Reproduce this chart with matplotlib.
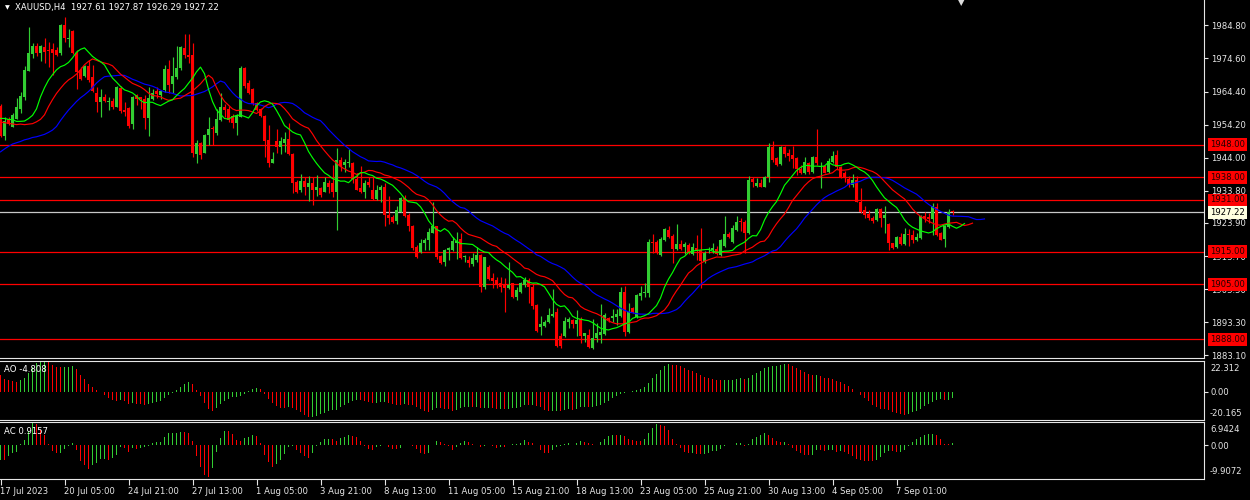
import numpy as np
import pandas as pd
import matplotlib
matplotlib.use("Agg")
import matplotlib.pyplot as plt
import matplotlib.transforms as mtransforms

# ---------------- data ----------------
symbol_title = "XAUUSD,H4  1927.61 1927.87 1926.29 1927.22"
ao_title = "AO -4.808"
ac_title = "AC 0.9157"

open_ = [
    1959.9, 1950.7, 1955.8, 1953.6, 1955.8, 1958.9, 1962.8, 1970.8, 1976.0, 1978.4,
    1976.4, 1978.2, 1977.2, 1977.4, 1977.2, 1976.2, 1984.9, 1980.5, 1983.2, 1976.2,
    1971.0, 1969.2, 1972.3, 1969.0, 1964.0, 1961.3, 1962.6, 1961.3, 1961.6, 1959.7,
    1965.4, 1958.7, 1959.2, 1954.4, 1963.3, 1962.6, 1962.0, 1956.3, 1962.0, 1964.6,
    1963.3, 1964.8, 1971.2, 1966.6, 1968.9, 1971.5, 1977.7, 1975.6, 1975.6, 1945.1,
    1948.6, 1945.5, 1951.0, 1953.3, 1951.7, 1955.6, 1959.5, 1958.9, 1956.8, 1954.8,
    1956.6, 1971.5, 1967.0, 1965.1, 1961.0, 1958.9, 1956.9, 1949.5, 1942.5, 1949.0,
    1947.4, 1948.4, 1949.7, 1945.2, 1936.6, 1934.1, 1936.9, 1934.9, 1936.1, 1933.9,
    1934.6, 1933.5, 1936.3, 1936.3, 1933.5, 1943.3, 1941.8, 1942.3, 1942.3, 1937.3,
    1934.6, 1933.5, 1936.6, 1933.9, 1931.2, 1933.9, 1935.1, 1926.4, 1925.8, 1924.6,
    1927.4, 1931.5, 1926.4, 1923.0, 1916.6, 1914.8, 1917.6, 1918.5, 1920.9, 1922.8,
    1913.7, 1912.0, 1915.4, 1915.6, 1917.8, 1918.9, 1913.3, 1912.5, 1911.3, 1912.5,
    1914.0, 1904.3, 1910.4, 1906.8, 1906.3, 1905.3, 1904.8, 1903.8, 1905.3, 1901.0,
    1902.7, 1904.8, 1906.3, 1904.3, 1898.6, 1891.7, 1892.2, 1893.5, 1895.2, 1896.3,
    1888.9, 1888.9, 1893.5, 1894.0, 1892.8, 1894.2, 1889.1, 1889.4, 1885.3, 1888.3,
    1889.4, 1889.7, 1894.5, 1894.5, 1895.0, 1895.2, 1902.7, 1890.4, 1897.6, 1894.8,
    1901.4, 1902.2, 1902.4, 1918.1, 1918.1, 1914.0, 1918.7, 1921.7, 1919.9, 1915.8,
    1917.4, 1916.6, 1917.1, 1914.3, 1916.1, 1915.6, 1912.0, 1915.6, 1915.6, 1915.8,
    1914.0, 1916.8, 1920.5, 1918.1, 1921.7, 1924.6, 1924.3, 1920.9, 1937.4, 1935.3,
    1936.3, 1935.1, 1938.0, 1947.4, 1943.8, 1942.1, 1947.4, 1945.6, 1944.9, 1943.8,
    1940.4, 1939.4, 1942.5, 1939.7, 1944.3, 1941.1, 1941.3, 1939.7, 1942.8, 1944.9,
    1941.1, 1939.2, 1937.4, 1935.6, 1937.1, 1930.5, 1927.9, 1926.7, 1925.3, 1924.8,
    1928.1, 1925.3, 1923.6, 1917.6, 1916.4, 1919.5, 1917.4, 1920.5, 1920.2, 1918.5,
    1919.2, 1925.9, 1925.7, 1925.0, 1928.9, 1920.7, 1918.9, 1922.6, 1927.61,
]
high = [
    1960.5, 1956.6, 1956.6, 1957.7, 1962.3, 1964.4, 1972.3, 1984.2, 1979.2, 1979.2,
    1978.6, 1981.0, 1979.8, 1979.2, 1978.2, 1985.2, 1987.3, 1983.6, 1983.3, 1977.2,
    1972.1, 1972.5, 1974.1, 1972.5, 1965.7, 1965.1, 1963.6, 1962.6, 1962.3, 1966.1,
    1966.1, 1961.2, 1959.5, 1963.0, 1963.6, 1962.8, 1963.3, 1965.9, 1965.3, 1965.9,
    1965.0, 1972.5, 1974.1, 1974.9, 1978.4, 1978.4, 1982.1, 1982.1, 1979.2, 1949.6,
    1948.9, 1951.3, 1956.6, 1953.7, 1958.9, 1964.0, 1960.7, 1959.9, 1957.4, 1957.4,
    1972.2, 1972.0, 1968.0, 1965.6, 1961.3, 1959.2, 1957.2, 1954.1, 1945.9, 1952.8,
    1950.5, 1952.0, 1954.6, 1945.4, 1937.0, 1939.0, 1938.2, 1938.4, 1938.2, 1938.7,
    1935.1, 1938.0, 1937.1, 1941.8, 1946.9, 1944.1, 1943.5, 1946.6, 1942.8, 1939.2,
    1941.5, 1937.1, 1938.0, 1938.2, 1935.6, 1935.6, 1936.1, 1932.2, 1926.3, 1929.1,
    1932.0, 1932.5, 1926.9, 1923.2, 1917.1, 1918.9, 1919.2, 1922.3, 1930.5, 1923.0,
    1914.0, 1915.8, 1916.4, 1919.7, 1921.2, 1920.9, 1914.0, 1913.7, 1914.6, 1916.4,
    1914.2, 1913.5, 1911.0, 1908.4, 1907.3, 1907.3, 1906.8, 1912.0, 1905.5, 1904.3,
    1905.8, 1907.1, 1906.8, 1905.5, 1899.0, 1895.2, 1894.0, 1897.6, 1903.5, 1897.6,
    1890.1, 1895.0, 1895.0, 1894.4, 1897.1, 1895.0, 1890.1, 1891.1, 1894.2, 1893.0,
    1898.9, 1896.0, 1895.0, 1897.3, 1897.3, 1904.1, 1904.5, 1899.1, 1898.1, 1902.0,
    1904.5, 1905.5, 1918.9, 1920.5, 1918.7, 1919.5, 1922.2, 1923.0, 1920.5, 1923.6,
    1918.5, 1918.1, 1917.6, 1917.8, 1920.2, 1922.2, 1915.1, 1916.4, 1917.6, 1916.8,
    1918.9, 1926.1, 1921.0, 1923.3, 1926.0, 1925.3, 1924.8, 1938.4, 1938.2, 1937.7,
    1937.4, 1938.4, 1948.4, 1949.2, 1944.3, 1947.6, 1947.6, 1946.6, 1947.6, 1944.3,
    1941.8, 1944.3, 1942.8, 1944.5, 1952.9, 1942.8, 1941.5, 1943.8, 1946.2, 1946.4,
    1941.5, 1940.0, 1938.4, 1939.0, 1938.4, 1934.6, 1929.1, 1927.9, 1926.1, 1928.4,
    1928.4, 1929.1, 1924.0, 1917.8, 1919.9, 1920.7, 1922.3, 1922.0, 1921.8, 1920.9,
    1926.2, 1927.4, 1927.1, 1930.0, 1930.0, 1921.2, 1923.3, 1928.1, 1927.87,
]
low = [
    1950.3, 1949.5, 1954.0, 1953.6, 1955.8, 1957.7, 1961.8, 1970.8, 1974.6, 1975.3,
    1973.9, 1973.1, 1972.1, 1969.5, 1975.3, 1975.6, 1979.8, 1978.2, 1976.0, 1965.1,
    1968.0, 1969.0, 1967.4, 1964.4, 1958.2, 1956.6, 1961.1, 1958.7, 1958.9, 1959.5,
    1957.7, 1957.0, 1953.3, 1952.9, 1960.2, 1958.9, 1952.9, 1950.8, 1961.7, 1962.3,
    1962.0, 1964.3, 1963.8, 1964.0, 1968.4, 1971.0, 1974.6, 1973.3, 1944.3, 1942.4,
    1943.5, 1945.3, 1947.9, 1947.9, 1951.0, 1955.4, 1956.4, 1955.1, 1953.0, 1951.0,
    1956.4, 1965.5, 1963.7, 1960.3, 1958.5, 1956.4, 1944.3, 1941.0, 1942.3, 1945.4,
    1945.2, 1945.9, 1944.8, 1933.0, 1933.2, 1933.5, 1932.5, 1930.8, 1929.4, 1932.2,
    1932.0, 1933.3, 1933.2, 1932.0, 1921.7, 1940.0, 1939.7, 1941.0, 1936.1, 1933.9,
    1933.0, 1931.5, 1935.1, 1931.0, 1931.0, 1930.2, 1922.8, 1923.6, 1924.0, 1923.6,
    1927.2, 1925.8, 1921.5, 1915.6, 1913.1, 1914.6, 1915.6, 1915.4, 1920.7, 1912.7,
    1911.2, 1910.6, 1912.5, 1915.1, 1912.7, 1912.7, 1912.0, 1910.2, 1910.5, 1912.0,
    1902.7, 1903.5, 1906.3, 1903.8, 1903.8, 1902.7, 1896.3, 1903.5, 1900.7, 1900.2,
    1902.4, 1904.1, 1899.3, 1897.3, 1890.4, 1889.4, 1891.7, 1893.0, 1895.0, 1885.8,
    1885.3, 1888.7, 1891.4, 1891.4, 1888.9, 1886.8, 1887.3, 1885.3, 1885.0, 1887.3,
    1887.0, 1889.4, 1893.5, 1893.5, 1892.5, 1895.0, 1889.1, 1890.1, 1896.1, 1894.6,
    1900.0, 1901.2, 1901.2, 1914.5, 1914.3, 1913.8, 1918.4, 1919.2, 1911.7, 1915.6,
    1915.6, 1914.3, 1914.3, 1914.0, 1912.5, 1903.8, 1911.7, 1914.5, 1914.5, 1914.0,
    1913.7, 1916.6, 1919.2, 1917.8, 1921.5, 1921.5, 1914.5, 1920.5, 1935.1, 1935.1,
    1934.9, 1934.9, 1936.6, 1942.8, 1941.5, 1941.8, 1944.3, 1943.1, 1940.7, 1938.7,
    1939.0, 1939.0, 1939.0, 1939.4, 1941.8, 1934.6, 1939.2, 1939.2, 1942.5, 1940.4,
    1937.7, 1936.6, 1935.1, 1935.1, 1930.2, 1926.9, 1925.3, 1924.8, 1924.0, 1924.6,
    1922.6, 1920.9, 1915.4, 1915.8, 1916.1, 1917.1, 1917.1, 1916.8, 1917.6, 1918.2,
    1918.9, 1924.3, 1923.8, 1920.2, 1920.0, 1918.5, 1916.6, 1922.3, 1926.29,
]
close = [
    1950.7, 1955.4, 1954.4, 1957.2, 1959.5, 1963.0, 1971.0, 1976.4, 1978.4, 1976.2,
    1978.4, 1976.7, 1977.0, 1976.4, 1975.6, 1984.9, 1980.8, 1981.0, 1976.2, 1970.5,
    1968.2, 1972.3, 1968.0, 1964.7, 1961.3, 1962.8, 1961.6, 1961.6, 1959.5, 1965.7,
    1958.5, 1958.0, 1953.7, 1962.6, 1962.0, 1962.0, 1956.3, 1962.3, 1963.8, 1963.6,
    1964.6, 1971.2, 1966.4, 1969.1, 1971.5, 1978.0, 1975.6, 1974.9, 1945.3, 1948.6,
    1944.8, 1951.0, 1952.7, 1952.7, 1955.8, 1959.5, 1958.7, 1955.6, 1954.8, 1956.8,
    1971.5, 1966.0, 1964.0, 1960.6, 1958.7, 1956.7, 1949.3, 1942.5, 1943.5, 1947.4,
    1949.0, 1949.7, 1945.2, 1936.3, 1933.5, 1936.9, 1934.9, 1936.1, 1933.9, 1934.9,
    1932.5, 1936.6, 1934.9, 1933.5, 1943.3, 1941.5, 1942.8, 1942.8, 1937.3, 1934.1,
    1933.5, 1936.3, 1935.6, 1931.2, 1934.1, 1935.1, 1926.4, 1925.3, 1924.3, 1927.9,
    1931.5, 1926.1, 1922.8, 1916.1, 1913.3, 1917.8, 1918.7, 1921.2, 1922.8, 1913.5,
    1911.5, 1915.6, 1916.1, 1918.2, 1918.2, 1913.0, 1913.7, 1911.5, 1913.0, 1914.0,
    1904.3, 1913.3, 1906.5, 1906.1, 1905.1, 1904.3, 1903.8, 1904.8, 1901.0, 1903.1,
    1905.5, 1906.3, 1904.1, 1898.3, 1890.7, 1892.8, 1893.5, 1895.5, 1895.8, 1886.0,
    1886.0, 1893.8, 1894.2, 1892.8, 1894.0, 1889.1, 1889.9, 1885.6, 1888.3, 1889.9,
    1890.4, 1895.5, 1894.0, 1895.2, 1895.8, 1902.7, 1890.4, 1896.3, 1896.6, 1901.7,
    1902.4, 1902.7, 1918.1, 1917.6, 1914.5, 1918.9, 1921.9, 1919.5, 1915.8, 1917.4,
    1915.8, 1917.4, 1914.8, 1916.4, 1915.1, 1912.3, 1914.5, 1915.8, 1916.1, 1914.3,
    1918.5, 1920.5, 1919.5, 1922.2, 1924.3, 1924.3, 1920.9, 1937.1, 1936.6, 1936.3,
    1935.1, 1938.0, 1947.4, 1943.3, 1941.8, 1947.4, 1945.2, 1944.5, 1943.5, 1940.4,
    1939.2, 1942.8, 1939.7, 1944.3, 1942.3, 1941.5, 1939.4, 1943.1, 1944.5, 1941.1,
    1938.2, 1937.7, 1935.6, 1937.1, 1930.5, 1927.4, 1926.4, 1925.3, 1924.6, 1928.1,
    1925.3, 1926.4, 1917.6, 1916.1, 1919.5, 1917.4, 1920.5, 1920.2, 1918.5, 1919.5,
    1926.1, 1925.3, 1925.0, 1929.1, 1920.2, 1918.7, 1922.8, 1927.4, 1927.22,
]

# Alligator line values before the first visible bar
jaw_head = [1945.8, 1946.7, 1947.5, 1948.2, 1948.6, 1949.0, 1949.5, 1949.8]
teeth_head = [1955.0, 1954.8, 1954.6, 1954.4, 1954.2]
lips_head = [1956.1, 1956.1, 1955.8]

# AO / AC values for the first bars (history before chart start not visible)
ao_head = [12.2, 9.2, 8.6, 7.9, 7.0, 8.6, 10.1, 13.8, 18.3, 20.8,
           21.4, 22.3, 21.4, 19.3, 18.3, 17.7, 18.0, 18.3, 18.9, 16.5,
           12.2, 9.2, 5.5, 3.7, 1.2, -0.1, -2.4, -4.6, -6.1, -6.7,
           -5.5, -6.7, -8.6]
ac_head = [-4.4, -4.4, -3.1, -2.1]

date_labels = ["17 Jul 2023", "20 Jul 05:00", "24 Jul 21:00", "27 Jul 13:00",
               "1 Aug 05:00", "3 Aug 21:00", "8 Aug 13:00", "11 Aug 05:00",
               "15 Aug 21:00", "18 Aug 13:00", "23 Aug 05:00", "25 Aug 21:00",
               "30 Aug 13:00", "4 Sep 05:00", "7 Sep 01:00"]
date_label_bars = [0, 16, 32, 48, 64, 80, 96, 112, 128, 144, 160, 176, 192, 208, 224]

price_ticks = [1984.80, 1974.60, 1964.40, 1954.20, 1944.00, 1933.80, 1923.90,
               1913.70, 1903.50, 1893.30, 1883.10]
level_prices = [1948.00, 1938.00, 1931.00, 1915.00, 1905.00, 1888.00]
bid_price = 1927.22

ao_limits = (-20.165, 22.312)
ao_scale_labels = ["22.312", "0.00", "-20.165"]
ac_limits = (-9.9072, 6.9424)
ac_scale_labels = ["6.9424", "0.00", "-9.9072"]

# ---------------- derived indicators ----------------
o = np.array(open_); h = np.array(high); l = np.array(low); c = np.array(close)
n = len(c)
idx = np.arange(n)
med = (h + l) / 2.0


def smma_continue(head, period, prices):
    vals = list(head)
    v = head[-1]
    for p in prices:
        v = (v * (period - 1) + p) / period
        vals.append(v)
    return np.array(vals)


jaw = smma_continue(jaw_head, 13, med)      # shifted 8
teeth = smma_continue(teeth_head, 8, med)   # shifted 5
lips = smma_continue(lips_head, 5, med)     # shifted 3

ms = pd.Series(med)
ao = (ms.rolling(5).mean() - ms.rolling(34).mean()).to_numpy()
ao[:len(ao_head)] = ao_head
ac = ao - pd.Series(ao).rolling(5).mean().to_numpy()
ac[:len(ac_head)] = ac_head

ao_up = np.r_[False, ao[1:] > ao[:-1]]
ac_up = np.r_[True, ac[1:] > ac[:-1]]

# ---------------- figure ----------------
W, H = 1250, 500
BG = "black"
FG = "#E6E6E6"
GREEN = "#32CD32"
RED = "#FF0000"
FS = 6.1
PX = 72.0 / 100.0   # one pixel in points

plt.rcParams["font.family"] = ["DejaVu Sans"]
fig = plt.figure(figsize=(W / 100, H / 100), dpi=100, facecolor=BG)


def rect(x0, y0, x1, y1):
    return [x0 / W, 1 - y1 / H, (x1 - x0) / W, (y1 - y0) / H]


ax = fig.add_axes(rect(0, 0, 1204, 358))
ax_ao = fig.add_axes(rect(0, 361, 1204, 420))
ax_ac = fig.add_axes(rect(0, 422, 1204, 479))

xlim = (-0.125, 300.875)
for a in (ax, ax_ao, ax_ac):
    a.set_facecolor(BG)
    a.set_xlim(*xlim)
    for s in a.spines.values():
        s.set_color(FG)
        s.set_linewidth(0.8)
    a.spines["left"].set_visible(False)
    a.yaxis.tick_right()
    a.tick_params(axis="y", colors=FG, labelsize=FS, length=3, width=0.8, pad=2)
ax.spines["top"].set_visible(False)
ax.set_xticks([])
ax_ao.set_xticks([])

# ---- main price panel ----
ax.set_ylim(1882.27, 1992.60)
ax.set_yticks(price_ticks)
ax.set_yticklabels([f"{p:.2f}" for p in price_ticks])

for lv in level_prices:
    ax.axhline(lv, color=RED, lw=0.9, zorder=1)
ax.axhline(bid_price, color="#C8C8C8", lw=0.9, zorder=1)

up = c >= o
col = np.where(up, GREEN, RED)
ax.vlines(idx, l, h, colors=col, lw=0.85, zorder=2)
body_bottom = np.minimum(o, c)
body_h = np.maximum(np.abs(c - o), 0.3)
ax.bar(idx, body_h, bottom=body_bottom, width=0.72, color=col, linewidth=0, zorder=3)

ax.plot(np.arange(len(jaw)), jaw, color="#0000FF", lw=0.85, zorder=4)
ax.plot(np.arange(len(teeth)), teeth, color=RED, lw=0.85, zorder=4)
ax.plot(np.arange(len(lips)), lips, color="#00FF00", lw=0.85, zorder=4)

blend = mtransforms.blended_transform_factory(fig.transFigure, ax.transData)
for lv in level_prices:
    ax.text(1210 / W, lv, f"{lv:.2f}", transform=blend, ha="left", va="center",
            fontsize=FS, color="#200000", zorder=6, clip_on=False,
            bbox=dict(boxstyle="square,pad=0.22", fc=RED, ec="none"))
ax.text(1210 / W, bid_price, f"{bid_price:.2f}", transform=blend, ha="left",
        va="center", fontsize=FS, color="black", zorder=6, clip_on=False,
        bbox=dict(boxstyle="square,pad=0.22", fc="#FFFFE0", ec="none"))

# ---- AO panel ----
ax_ao.set_ylim(*ao_limits)
ax_ao.bar(idx, ao, width=0.32, color=np.where(ao_up, GREEN, RED), linewidth=0)
ax_ao.set_yticks([0])
ax_ao.set_yticklabels([ao_scale_labels[1]])
tr_ao = mtransforms.blended_transform_factory(fig.transFigure, ax_ao.transAxes)
ax_ao.text(1210 / W, 1 - 3 / 59, ao_scale_labels[0], transform=tr_ao,
           ha="left", va="top", fontsize=FS, color=FG, clip_on=False)
ax_ao.text(1210 / W, 2 / 59, ao_scale_labels[2], transform=tr_ao,
           ha="left", va="bottom", fontsize=FS, color=FG, clip_on=False)

# ---- AC panel ----
ax_ac.set_ylim(*ac_limits)
ax_ac.bar(idx, ac, width=0.32, color=np.where(ac_up, GREEN, RED), linewidth=0)
ax_ac.set_yticks([0])
ax_ac.set_yticklabels([ac_scale_labels[1]])
tr_ac = mtransforms.blended_transform_factory(fig.transFigure, ax_ac.transAxes)
ax_ac.text(1210 / W, 1 - 3.5 / 57, ac_scale_labels[0], transform=tr_ac,
           ha="left", va="top", fontsize=FS, color=FG, clip_on=False)
ax_ac.text(1210 / W, 3.5 / 57, ac_scale_labels[2], transform=tr_ac,
           ha="left", va="bottom", fontsize=FS, color=FG, clip_on=False)

ax_ac.set_xticks(date_label_bars)
ax_ac.set_xticklabels(date_labels, ha="left")
ax_ac.tick_params(axis="x", colors=FG, labelsize=FS, length=4, width=0.8, pad=2)

# ---- titles / markers ----
fig.text(15 / W, 1 - 7.5 / H, symbol_title, ha="left", va="center",
         fontsize=FS, color="white")
fig.text(7 / W, 1 - 7.5 / H, "\u25BC", ha="center", va="center",
         fontsize=4.5, color="white")
fig.text(961 / W, 1 - 2.5 / H, "\u25BC", ha="center", va="center",
         fontsize=6, color="#DDDDDD")
fig.text(4.5 / W, 1 - 369 / H, ao_title, ha="left", va="center",
         fontsize=FS, color="white")
fig.text(4.5 / W, 1 - 431 / H, ac_title, ha="left", va="center",
         fontsize=FS, color="white")

fig.savefig("out.png", dpi=100, facecolor=BG)
